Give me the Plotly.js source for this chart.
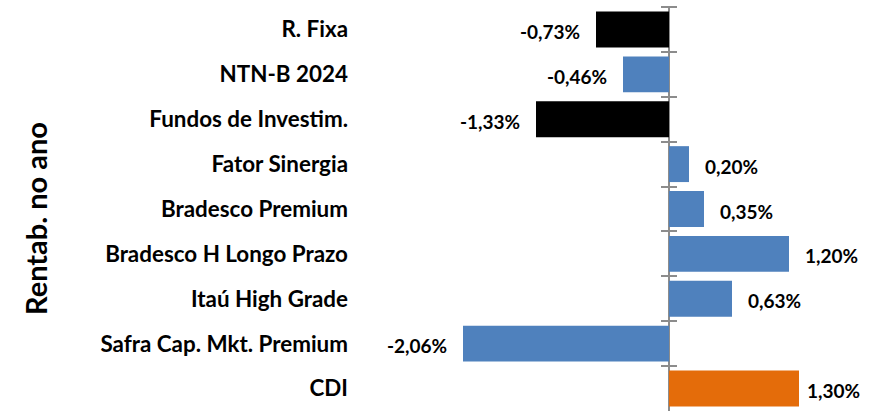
<!DOCTYPE html>
<html>
<head>
<meta charset="utf-8">
<script src="https://cdn.plot.ly/plotly-3.0.1.min.js"></script>
<style>html,body{margin:0;padding:0;background:#fff;}#chart{width:875px;height:411px;}</style>
</head>
<body>
<div id="chart"></div>
<script>
// ---- data ----
const categories = ["R. Fixa", "NTN-B 2024", "Fundos de Investim.", "Fator Sinergia", "Bradesco Premium",
  "Bradesco H Longo Prazo", "Itaú High Grade", "Safra Cap. Mkt. Premium", "CDI"];
const values = [-0.73, -0.46, -1.33, 0.20, 0.35, 1.20, 0.63, -2.06, 1.30];
const groups = ["total", "fund", "total", "fund", "fund", "fund", "fund", "fund", "bench"];
const axisTitle = "Rentab. no ano";

// ---- style ----
const groupColors = {total: "#000000", fund: "#4F81BD", bench: "#E46C0A"};
const groupLabelGap = {total: 14, fund: 14, bench: 6};
const W = 875, H = 411;
const margin = {l: 353, r: 0, t: 7, b: 0};
const plotW = W - margin.l - margin.r;
const xRange = [-3.16, 2.06];
const font = "Lato, 'Open Sans', sans-serif";

const fmt = v => v.toFixed(2).replace(".", ",") + "%";
const zeroFrac = (0 - xRange[0]) / (xRange[1] - xRange[0]);

const traces = [
  {
    type: "bar", orientation: "h",
    x: values, y: categories,
    marker: {color: groups.map(g => groupColors[g])},
    hoverinfo: "skip", showlegend: false
  },
  {
    type: "scatter", mode: "none", x: values, y: categories,
    yaxis: "y2", hoverinfo: "skip", showlegend: false
  }
];

const annotations = values.map((v, i) => ({
  x: v, y: categories[i], xref: "x", yref: "y",
  text: "<b>" + fmt(v) + "</b>", showarrow: false,
  xanchor: v < 0 ? "right" : "left",
  xshift: (v < 0 ? -1 : 1) * groupLabelGap[groups[i]], yshift: -2,
  font: {family: font, size: 19, color: "#000"}
}));
annotations.push({
  x: (35 - margin.l) / plotW, y: 1 - (219 - margin.t) / (H - margin.t - margin.b),
  xref: "paper", yref: "paper", text: "<b>" + axisTitle + "</b>", textangle: -90,
  showarrow: false, xanchor: "center", yanchor: "middle",
  font: {family: font, size: 29, color: "#000"}
});

const layout = {
  width: W, height: H, margin: margin,
  paper_bgcolor: "#fff", plot_bgcolor: "#fff",
  bargap: 0.2,
  xaxis: {range: xRange, showgrid: false, showticklabels: false, ticks: "",
    zeroline: true, zerolinecolor: "#8C8C8C", zerolinewidth: 2, fixedrange: true},
  yaxis: {type: "category", categoryorder: "array", categoryarray: categories,
    range: [categories.length - 0.5, -0.5], ticks: "", showgrid: false, showline: false,
    ticklabelstandoff: 4,
    tickfont: {family: font, size: 22.4, color: "#000", weight: "bold"}},
  yaxis2: {type: "category", categoryorder: "array", categoryarray: categories,
    overlaying: "y", anchor: "free", side: "left",
    position: zeroFrac + 8 / plotW,
    range: [categories.length - 0.5, -0.5], tickson: "boundaries",
    ticks: "outside", ticklen: 16, tickwidth: 2, tickcolor: "#8C8C8C",
    showticklabels: false, showgrid: false, showline: false, zeroline: false},
  annotations: annotations
};

Plotly.newPlot("chart", traces, layout, {displayModeBar: false, staticPlot: true});
</script>
</body>
</html>
